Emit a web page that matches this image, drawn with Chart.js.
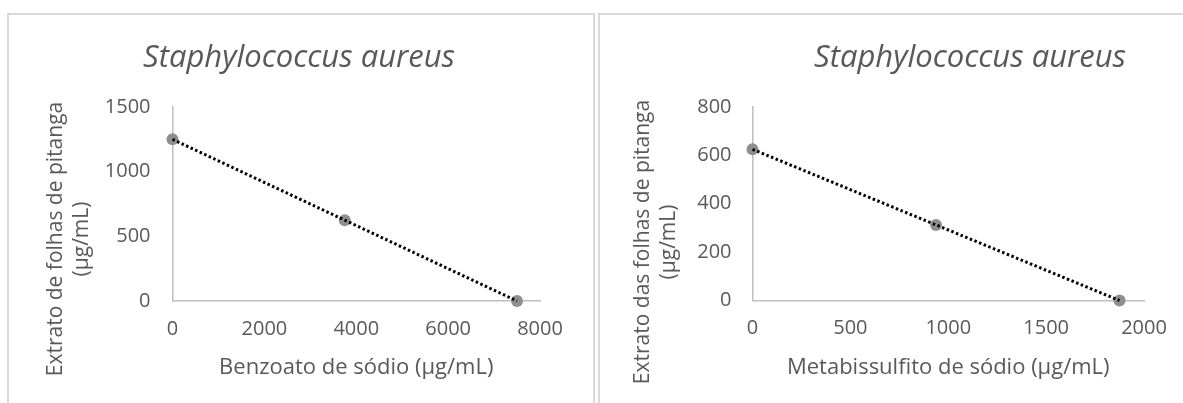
<!DOCTYPE html>
<html>
<head>
<meta charset="utf-8">
<script src="https://cdn.jsdelivr.net/npm/chart.js@4.4.0/dist/chart.umd.min.js"></script>
<style>
html,body{margin:0;padding:0;background:#fff;overflow:hidden;width:1183px;height:403px}
.panel{position:absolute;top:13px;height:520px;border:2px solid #d9d9d9;box-sizing:border-box}
#p1{left:7px;width:588px}
#p2{left:598px;width:620px}
canvas{position:absolute}
#c1{left:9px;top:15px}
#c2{left:601px;top:15px}
</style>
</head>
<body>
<div class="panel" id="p1"></div>
<div class="panel" id="p2"></div>
<canvas id="c1"></canvas>
<canvas id="c2"></canvas>
<script>
/* ---------- Dados ---------- */
const TITLE = "Staphylococcus aureus";

// painel esquerdo: benzoato de sódio x extrato
const benzX      = [0, 3750, 7500];
const benzY      = [1250, 625, 0];
const benzXTicks = [0, 2000, 4000, 6000, 8000];
const benzYTicks = [0, 500, 1000, 1500];

// painel direito: metabissulfito de sódio x extrato
const metaX      = [0, 937.5, 1875];
const metaY      = [625, 312.5, 0];
const metaXTicks = [0, 500, 1000, 1500, 2000];
const metaYTicks = [0, 200, 400, 600, 800];

/* ---------- Estilo ---------- */
const TXT  = "#595959";
const AXIS = "#bfbfbf";
const FONT = "'Open Sans', 'Noto Sans', sans-serif";

const pts = (xs, ys) => xs.map((x, i) => ({x: x, y: ys[i]}));
const tickRange = t => ({min: t[0], max: t[t.length-1], stepSize: t[1]-t[0]});

function makeChart(id, o){
  const cv = document.getElementById(id);
  cv.width = o.w; cv.height = o.h;
  cv.style.width = o.w + "px"; cv.style.height = o.h + "px";
  const xr = tickRange(o.xTicks), yr = tickRange(o.yTicks);
  return new Chart(cv, {
    type: "scatter",
    data: {datasets: [
      // linha de tendência pontilhada (desenhada por cima)
      {data: pts(o.xs, o.ys), showLine: true, borderColor: "#000", borderWidth: 3,
       borderDash: [2.5, 2.5], pointRadius: 0, order: 0, clip: false},
      // marcadores
      {data: pts(o.xs, o.ys), showLine: false, pointRadius: 6, pointBackgroundColor: "#8f8f8f",
       pointBorderWidth: 0, order: 1, clip: false}
    ]},
    options: {
      responsive: false, animation: false, events: [],
      layout: {padding: 0},
      plugins: {
        legend: {display: false}, tooltip: {enabled: false},
        title: {display: true, text: TITLE, color: TXT,
          font: {family: FONT, size: 31, style: "italic", weight: "normal", lineHeight: 1.2},
          padding: {top: 24.4, bottom: 30.4}},
        subtitle: {display: true, position: "left", text: o.yTitle, color: TXT,
          font: {family: FONT, size: 21, weight: "normal", lineHeight: 1.25},
          padding: {top: o.yTitlePad, bottom: 0}}
      },
      scales: {
        x: {type: "linear", position: "bottom", min: xr.min, max: xr.max,
          ticks: {stepSize: xr.stepSize, color: TXT, font: {family: FONT, size: 20}, padding: 16,
                  callback: v => String(v)},
          grid: {display: false, drawTicks: false},
          border: {color: AXIS, width: 1.5},
          title: {display: true, text: o.xTitle, color: TXT,
            font: {family: FONT, size: 22, lineHeight: 1.2}, padding: {top: 0, bottom: o.xTitlePad}},
          afterFit: s => { s.height = o.xAxisH; }},
        y: {type: "linear", position: "left", min: yr.min, max: yr.max,
          ticks: {stepSize: yr.stepSize, color: TXT, font: {family: FONT, size: 20}, padding: o.yTickPad,
                  callback: v => String(v)},
          grid: {display: false, drawTicks: false},
          border: {color: AXIS, width: 1.5},
          afterFit: s => { s.width = o.yAxisW; }},
        // espaço vazio à direita (só reserva largura)
        yR: {type: "linear", position: "right", display: true,
          ticks: {display: false}, grid: {display: false}, border: {display: false},
          afterFit: s => { s.width = o.rightW; }}
      }
    }
  });
}

makeChart("c1", {
  w: 580, h: 448,
  xs: benzX, ys: benzY, xTicks: benzXTicks, yTicks: benzYTicks,
  xTitle: "Benzoato de sódio (µg/mL)",
  yTitle: ["Extrato de folhas de pitanga", "(µg/mL)"],
  yTitlePad: 34, yAxisW: 77, yTickPad: 22, rightW: 49,
  xAxisH: 162, xTitlePad: 82
});

makeChart("c2", {
  w: 738, h: 454,
  xs: metaX, ys: metaY, xTicks: metaXTicks, yTicks: metaYTicks,
  xTitle: "Metabissulfito de sódio (µg/mL)",
  yTitle: ["Extrato das folhas de pitanga", "(µg/mL)"],
  yTitlePad: 29, yAxisW: 70, yTickPad: 21, rightW: 195,
  xAxisH: 168.5, xTitlePad: 88
});
</script>
</body>
</html>
